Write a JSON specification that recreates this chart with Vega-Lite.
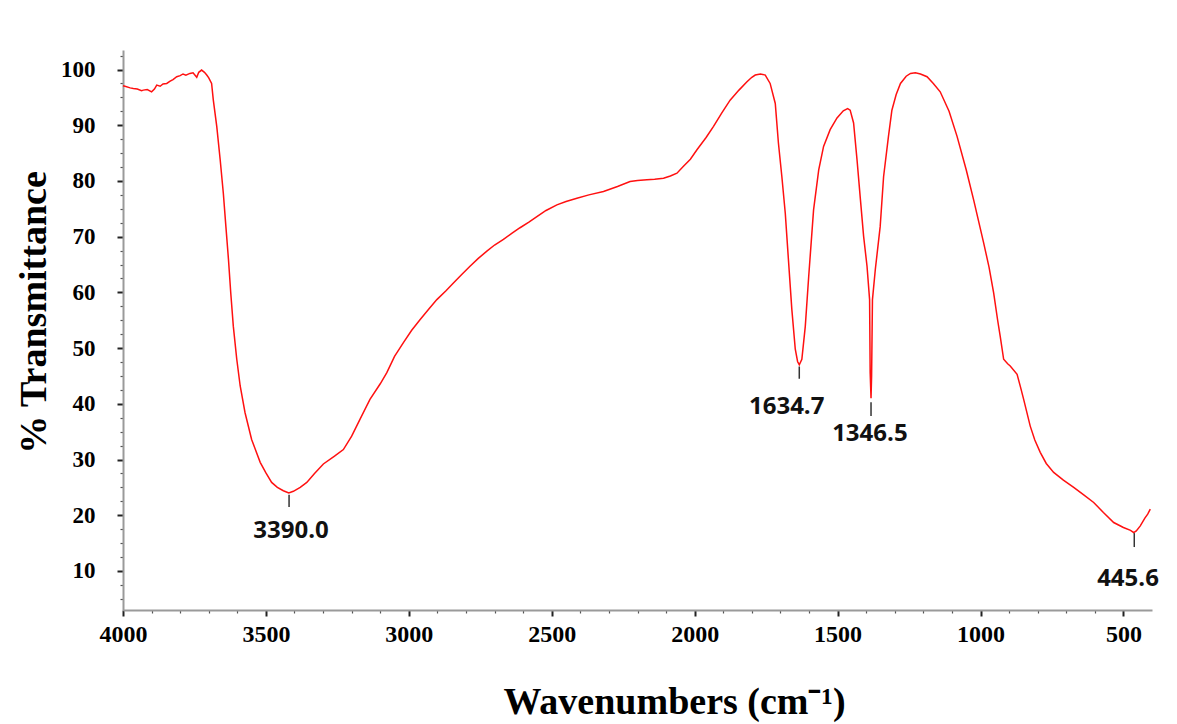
{
  "$schema": "https://vega.github.io/schema/vega-lite/v6.json",
  "width": 1029,
  "height": 560,
  "autosize": "none",
  "padding": {"left": 123, "top": 50, "right": 25, "bottom": 114},
  "background": "white",
  "config": {"view": {"stroke": null}},
  "datasets": {
    "spectrum": [
      {"wavenumber": 4000, "transmittance": 97.1},
      {"wavenumber": 3993, "transmittance": 97.0},
      {"wavenumber": 3975, "transmittance": 96.7},
      {"wavenumber": 3964, "transmittance": 96.6},
      {"wavenumber": 3950, "transmittance": 96.5},
      {"wavenumber": 3935, "transmittance": 96.2},
      {"wavenumber": 3929, "transmittance": 96.3},
      {"wavenumber": 3915, "transmittance": 96.4},
      {"wavenumber": 3900, "transmittance": 96.0},
      {"wavenumber": 3890, "transmittance": 96.5},
      {"wavenumber": 3882, "transmittance": 97.2},
      {"wavenumber": 3870, "transmittance": 97.0},
      {"wavenumber": 3860, "transmittance": 97.4},
      {"wavenumber": 3847, "transmittance": 97.5},
      {"wavenumber": 3835, "transmittance": 97.9},
      {"wavenumber": 3825, "transmittance": 98.2},
      {"wavenumber": 3812, "transmittance": 98.7},
      {"wavenumber": 3800, "transmittance": 98.9},
      {"wavenumber": 3790, "transmittance": 99.2},
      {"wavenumber": 3780, "transmittance": 99.0},
      {"wavenumber": 3766, "transmittance": 99.3},
      {"wavenumber": 3755, "transmittance": 99.4},
      {"wavenumber": 3742, "transmittance": 98.6},
      {"wavenumber": 3735, "transmittance": 99.5},
      {"wavenumber": 3725, "transmittance": 99.9},
      {"wavenumber": 3715, "transmittance": 99.5},
      {"wavenumber": 3707, "transmittance": 99.0},
      {"wavenumber": 3700, "transmittance": 98.5},
      {"wavenumber": 3690, "transmittance": 97.5},
      {"wavenumber": 3684, "transmittance": 94.5},
      {"wavenumber": 3672, "transmittance": 89.8},
      {"wavenumber": 3660, "transmittance": 83.8},
      {"wavenumber": 3649, "transmittance": 77.8},
      {"wavenumber": 3640, "transmittance": 71.8},
      {"wavenumber": 3631, "transmittance": 65.9},
      {"wavenumber": 3623, "transmittance": 59.9},
      {"wavenumber": 3614, "transmittance": 53.9},
      {"wavenumber": 3602, "transmittance": 48.0},
      {"wavenumber": 3590, "transmittance": 43.2},
      {"wavenumber": 3573, "transmittance": 38.4},
      {"wavenumber": 3550, "transmittance": 33.6},
      {"wavenumber": 3520, "transmittance": 29.5},
      {"wavenumber": 3500, "transmittance": 27.6},
      {"wavenumber": 3480, "transmittance": 25.9},
      {"wavenumber": 3460, "transmittance": 25.0},
      {"wavenumber": 3439, "transmittance": 24.4},
      {"wavenumber": 3420, "transmittance": 24.0},
      {"wavenumber": 3404, "transmittance": 24.3},
      {"wavenumber": 3380, "transmittance": 25.0},
      {"wavenumber": 3357, "transmittance": 25.9},
      {"wavenumber": 3330, "transmittance": 27.5},
      {"wavenumber": 3299, "transmittance": 29.2},
      {"wavenumber": 3260, "transmittance": 30.6},
      {"wavenumber": 3229, "transmittance": 31.8},
      {"wavenumber": 3200, "transmittance": 34.2},
      {"wavenumber": 3171, "transmittance": 37.2},
      {"wavenumber": 3136, "transmittance": 40.8},
      {"wavenumber": 3100, "transmittance": 43.6},
      {"wavenumber": 3077, "transmittance": 45.6},
      {"wavenumber": 3050, "transmittance": 48.5},
      {"wavenumber": 3019, "transmittance": 51.0},
      {"wavenumber": 2990, "transmittance": 53.2},
      {"wavenumber": 2961, "transmittance": 55.1},
      {"wavenumber": 2930, "transmittance": 57.0},
      {"wavenumber": 2902, "transmittance": 58.7},
      {"wavenumber": 2870, "transmittance": 60.3},
      {"wavenumber": 2844, "transmittance": 61.7},
      {"wavenumber": 2815, "transmittance": 63.2},
      {"wavenumber": 2786, "transmittance": 64.7},
      {"wavenumber": 2757, "transmittance": 66.1},
      {"wavenumber": 2727, "transmittance": 67.4},
      {"wavenumber": 2700, "transmittance": 68.5},
      {"wavenumber": 2669, "transmittance": 69.5},
      {"wavenumber": 2640, "transmittance": 70.6},
      {"wavenumber": 2611, "transmittance": 71.6},
      {"wavenumber": 2580, "transmittance": 72.6},
      {"wavenumber": 2552, "transmittance": 73.6},
      {"wavenumber": 2520, "transmittance": 74.7},
      {"wavenumber": 2482, "transmittance": 75.7},
      {"wavenumber": 2450, "transmittance": 76.3},
      {"wavenumber": 2412, "transmittance": 76.9},
      {"wavenumber": 2370, "transmittance": 77.5},
      {"wavenumber": 2319, "transmittance": 78.1},
      {"wavenumber": 2270, "transmittance": 79.0},
      {"wavenumber": 2226, "transmittance": 79.9},
      {"wavenumber": 2200, "transmittance": 80.1},
      {"wavenumber": 2167, "transmittance": 80.2},
      {"wavenumber": 2140, "transmittance": 80.3},
      {"wavenumber": 2109, "transmittance": 80.5},
      {"wavenumber": 2085, "transmittance": 80.9},
      {"wavenumber": 2062, "transmittance": 81.4},
      {"wavenumber": 2040, "transmittance": 82.6},
      {"wavenumber": 2015, "transmittance": 83.9},
      {"wavenumber": 1992, "transmittance": 85.6},
      {"wavenumber": 1960, "transmittance": 87.8},
      {"wavenumber": 1934, "transmittance": 89.8},
      {"wavenumber": 1905, "transmittance": 92.2},
      {"wavenumber": 1876, "transmittance": 94.5},
      {"wavenumber": 1845, "transmittance": 96.3},
      {"wavenumber": 1817, "transmittance": 97.8},
      {"wavenumber": 1800, "transmittance": 98.6},
      {"wavenumber": 1788, "transmittance": 99.0},
      {"wavenumber": 1770, "transmittance": 99.2},
      {"wavenumber": 1753, "transmittance": 99.0},
      {"wavenumber": 1736, "transmittance": 97.5},
      {"wavenumber": 1718, "transmittance": 93.9},
      {"wavenumber": 1707, "transmittance": 86.8},
      {"wavenumber": 1695, "transmittance": 80.8},
      {"wavenumber": 1683, "transmittance": 74.2},
      {"wavenumber": 1672, "transmittance": 65.9},
      {"wavenumber": 1660, "transmittance": 56.9},
      {"wavenumber": 1648, "transmittance": 49.8},
      {"wavenumber": 1640, "transmittance": 47.6},
      {"wavenumber": 1634, "transmittance": 47.0},
      {"wavenumber": 1625, "transmittance": 48.0},
      {"wavenumber": 1613, "transmittance": 53.9},
      {"wavenumber": 1601, "transmittance": 62.9},
      {"wavenumber": 1584, "transmittance": 74.8},
      {"wavenumber": 1566, "transmittance": 82.0},
      {"wavenumber": 1549, "transmittance": 86.2},
      {"wavenumber": 1526, "transmittance": 89.2},
      {"wavenumber": 1502, "transmittance": 91.3},
      {"wavenumber": 1480, "transmittance": 92.6},
      {"wavenumber": 1465, "transmittance": 93.0},
      {"wavenumber": 1456, "transmittance": 92.7},
      {"wavenumber": 1444, "transmittance": 90.4},
      {"wavenumber": 1432, "transmittance": 83.8},
      {"wavenumber": 1420, "transmittance": 76.6},
      {"wavenumber": 1409, "transmittance": 70.1},
      {"wavenumber": 1397, "transmittance": 64.7},
      {"wavenumber": 1388, "transmittance": 58.7},
      {"wavenumber": 1386, "transmittance": 45.6},
      {"wavenumber": 1383, "transmittance": 41.0},
      {"wavenumber": 1381, "transmittance": 45.0},
      {"wavenumber": 1378, "transmittance": 58.7},
      {"wavenumber": 1368, "transmittance": 64.1},
      {"wavenumber": 1351, "transmittance": 71.8},
      {"wavenumber": 1339, "transmittance": 80.8},
      {"wavenumber": 1322, "transmittance": 88.0},
      {"wavenumber": 1310, "transmittance": 92.7},
      {"wavenumber": 1295, "transmittance": 95.5},
      {"wavenumber": 1280, "transmittance": 97.5},
      {"wavenumber": 1260, "transmittance": 98.8},
      {"wavenumber": 1245, "transmittance": 99.3},
      {"wavenumber": 1228, "transmittance": 99.4},
      {"wavenumber": 1210, "transmittance": 99.2},
      {"wavenumber": 1187, "transmittance": 98.7},
      {"wavenumber": 1165, "transmittance": 97.5},
      {"wavenumber": 1141, "transmittance": 96.0},
      {"wavenumber": 1110, "transmittance": 92.5},
      {"wavenumber": 1082, "transmittance": 88.0},
      {"wavenumber": 1050, "transmittance": 82.0},
      {"wavenumber": 1024, "transmittance": 76.6},
      {"wavenumber": 989, "transmittance": 68.9},
      {"wavenumber": 970, "transmittance": 64.5},
      {"wavenumber": 954, "transmittance": 59.9},
      {"wavenumber": 940, "transmittance": 55.0},
      {"wavenumber": 931, "transmittance": 52.1},
      {"wavenumber": 919, "transmittance": 48.0},
      {"wavenumber": 905, "transmittance": 47.2},
      {"wavenumber": 896, "transmittance": 46.8},
      {"wavenumber": 872, "transmittance": 45.3},
      {"wavenumber": 860, "transmittance": 43.0},
      {"wavenumber": 849, "transmittance": 40.8},
      {"wavenumber": 826, "transmittance": 36.0},
      {"wavenumber": 810, "transmittance": 33.5},
      {"wavenumber": 791, "transmittance": 31.3},
      {"wavenumber": 770, "transmittance": 29.3},
      {"wavenumber": 744, "transmittance": 27.7},
      {"wavenumber": 710, "transmittance": 26.3},
      {"wavenumber": 674, "transmittance": 25.0},
      {"wavenumber": 640, "transmittance": 23.7},
      {"wavenumber": 604, "transmittance": 22.3},
      {"wavenumber": 570, "transmittance": 20.5},
      {"wavenumber": 534, "transmittance": 18.7},
      {"wavenumber": 500, "transmittance": 17.8},
      {"wavenumber": 475, "transmittance": 17.3},
      {"wavenumber": 464, "transmittance": 16.9},
      {"wavenumber": 455, "transmittance": 17.2},
      {"wavenumber": 441, "transmittance": 18.1},
      {"wavenumber": 425, "transmittance": 19.5},
      {"wavenumber": 415, "transmittance": 20.2},
      {"wavenumber": 406, "transmittance": 21.1}
    ],
    "peaks": [
      {"peak": "3390.0", "x": 3419, "top": 23.7, "bottom": 21.5, "lx": 3412, "ly": 17.2},
      {"peak": "1634.7", "x": 1634, "top": 46.7, "bottom": 44.5, "lx": 1678, "ly": 39.4},
      {"peak": "1346.5", "x": 1383, "top": 40.3, "bottom": 37.8, "lx": 1387, "ly": 34.5},
      {"peak": "445.6", "x": 462, "top": 16.8, "bottom": 14.3, "lx": 484, "ly": 8.6}
    ]
  },
  "layer": [
    {
      "data": {"name": "spectrum"},
      "mark": {"type": "line", "color": "#ff1010", "strokeWidth": 1.5},
      "encoding": {
        "x": {
          "field": "wavenumber",
          "type": "quantitative",
          "scale": {"domain": [400, 4000], "reverse": true, "nice": false, "zero": false},
          "axis": {
            "values": [500, 600, 700, 800, 900, 1000, 1100, 1200, 1300, 1400, 1500, 1600, 1700, 1800, 1900, 2000, 2100, 2200, 2300, 2400, 2500, 2600, 2700, 2800, 2900, 3000, 3100, 3200, 3300, 3400, 3500, 3600, 3700, 3800, 3900, 4000],
            "tickCount": 200,
            "labelExpr": "(datum.value % 500 == 0) ? format(datum.value, 'd') : ''",
            "grid": false,
            "domainColor": "#9a9a9a",
            "domainWidth": 2,
            "tickColor": {"condition": {"test": "datum.value % 500 == 0", "value": "#222222"}, "value": "#555555"},
            "tickWidth": {"condition": {"test": "datum.value % 500 == 0", "value": 2}, "value": 1.2},
            "tickSize": {"condition": {"test": "datum.value % 500 == 0", "value": 6}, "value": 3},
            "labelFont": "Liberation Serif",
            "labelFontWeight": "bold",
            "labelFontSize": 24,
            "labelColor": "#000000",
            "labelPadding": 6,
            "labelFlush": false,
            "labelOverlap": false,
            "labelBound": false,
            "title": "Wavenumbers (cm⁻¹)",
            "titleFont": "Liberation Serif",
            "titleFontWeight": "bold",
            "titleFontSize": 38,
            "titleColor": "#000000",
            "titleAlign": "center",
            "titleBaseline": "alphabetic",
            "titleX": 551,
            "titleY": 103
          }
        },
        "y": {
          "field": "transmittance",
          "type": "quantitative",
          "scale": {"domain": [3, 103.5], "nice": false, "zero": false},
          "axis": {
            "values": [5, 7.5, 10, 12.5, 15, 17.5, 20, 22.5, 25, 27.5, 30, 32.5, 35, 37.5, 40, 42.5, 45, 47.5, 50, 52.5, 55, 57.5, 60, 62.5, 65, 67.5, 70, 72.5, 75, 77.5, 80, 82.5, 85, 87.5, 90, 92.5, 95, 97.5, 100, 102.5],
            "tickCount": 200,
            "labelExpr": "(datum.value % 10 == 0) ? format(datum.value, 'd') : ''",
            "grid": false,
            "domainColor": "#9a9a9a",
            "domainWidth": 2,
            "tickColor": {"condition": {"test": "datum.value % 10 == 0", "value": "#222222"}, "value": "#555555"},
            "tickWidth": {"condition": {"test": "datum.value % 10 == 0", "value": 2}, "value": 1.2},
            "tickSize": {"condition": {"test": "datum.value % 10 == 0", "value": 6}, "value": 3},
            "labelFont": "Liberation Serif",
            "labelFontWeight": "bold",
            "labelFontSize": 23,
            "labelColor": "#000000",
            "labelPadding": 22,
            "labelFlush": false,
            "labelOverlap": false,
            "labelBound": false,
            "title": "% Transmittance",
            "titleFont": "Liberation Serif",
            "titleFontWeight": "bold",
            "titleFontSize": 38,
            "titleColor": "#000000",
            "titleAngle": -90,
            "titleAlign": "center",
            "titleBaseline": "alphabetic",
            "titleX": -78,
            "titleY": 262
          }
        }
      }
    },
    {
      "data": {"name": "peaks"},
      "mark": {"type": "rule", "color": "#333333", "strokeWidth": 1.5},
      "encoding": {
        "x": {"field": "x", "type": "quantitative"},
        "y": {"field": "top", "type": "quantitative"},
        "y2": {"field": "bottom"}
      }
    },
    {
      "data": {"name": "peaks"},
      "mark": {"type": "text", "font": "Open Sans", "fontSize": 24, "fontWeight": "bold", "color": "#111111", "align": "center", "baseline": "middle"},
      "encoding": {
        "x": {"field": "lx", "type": "quantitative"},
        "y": {"field": "ly", "type": "quantitative"},
        "text": {"field": "peak"}
      }
    }
  ]
}
